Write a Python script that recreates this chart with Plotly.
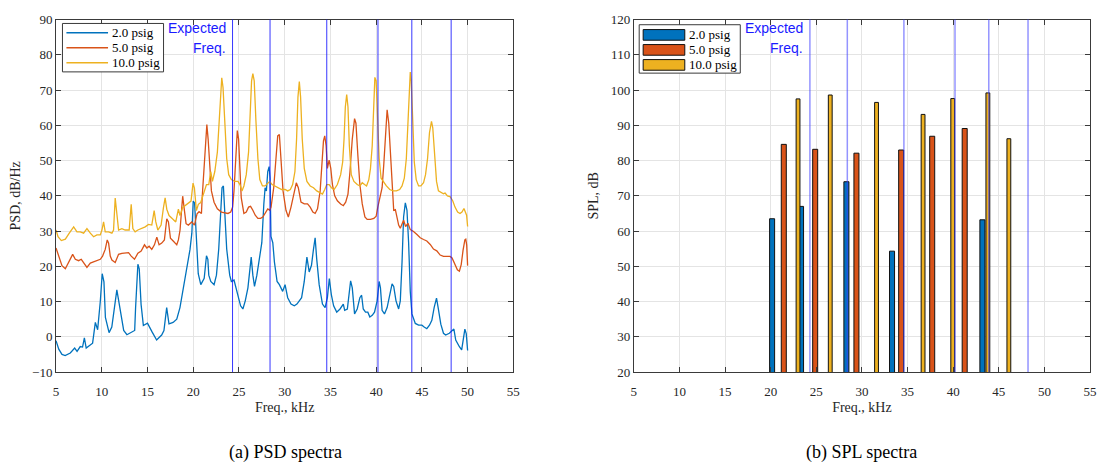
import plotly.graph_objects as go

# ---------------- PSD data (left) ----------------
f_2 = [5.0, 5.3, 5.65, 6.0, 6.56, 7.04, 7.3, 7.65, 7.9, 8.1, 8.3, 8.75, 9.0, 9.3, 9.55, 9.84, 10.05, 10.24, 10.4,
       10.8, 11.1, 11.65, 12.0, 12.4, 12.75, 13.3, 13.6, 13.7, 13.95, 14.1, 14.3, 14.55, 15.0, 15.5, 16.0, 16.55,
       16.8, 17.1, 17.35, 17.8, 18.2, 18.55, 18.9, 19.3, 19.65, 19.85, 20.0, 20.15, 20.35, 20.55, 20.83, 21.2,
       21.45, 21.6, 21.7, 21.92, 22.28, 22.54, 22.79, 23.0, 23.15, 23.3, 23.44, 23.66, 23.99, 24.17, 24.46, 24.6,
       24.89, 25.18, 25.43, 25.69, 25.98, 26.16, 26.34, 26.52, 26.7, 26.96, 27.25, 27.5, 27.72, 27.86, 28.0,
       28.15, 28.3, 28.4, 28.5, 28.7, 28.88, 29.17, 29.42, 29.78, 30.04, 30.33, 30.69, 31.05, 31.34, 31.6, 31.85,
       32.14, 32.43, 32.68, 32.93, 33.15, 33.33, 33.5, 33.77, 34.13, 34.42, 34.67, 34.88, 35.1, 35.35, 35.69,
       36.05, 36.41, 36.56, 36.85, 37.07, 37.21, 37.39, 37.64, 37.93, 38.22, 38.41, 38.59, 38.84, 39.09, 39.31,
       39.57, 39.82, 40.11, 40.33, 40.47, 40.65, 40.91, 41.2, 41.49, 41.74, 41.92, 42.17, 42.46, 42.64, 42.83,
       43.0, 43.19, 43.37, 43.55, 43.73, 43.91, 44.28, 44.64, 45.0, 45.25, 45.54, 45.83, 46.09, 46.34, 46.6,
       46.8, 47.07, 47.36, 47.6, 48.0, 48.3, 48.5, 48.7, 48.9, 49.1, 49.35, 49.55, 49.7, 49.85, 50.0]
psd_2 = [-1.1, -3.5, -5.0, -5.3, -4.6, -3.2, -4.1, -2.75, -2.9, -0.3, -3.2, -2.3, -1.8, 4.1, 2.0, 10.0, 17.9, 15.6, 5.5,
         1.2, 2.75, 13.3, 7.3, 1.8, 0.6, 1.4, 1.8, 8.3, 20.6, 19.3, 9.2, 3.2, 3.9, 1.4, -0.9, 0.5,
         1.8, 8.3, 3.7, 4.1, 5.0, 8.3, 13.8, 20.2, 24.8, 29.4, 38.5, 38.0, 26.6, 17.9, 14.8, 16.6,
         23.0, 22.0, 17.5, 15.7, 14.8, 17.5, 24.9, 35.9, 42.3, 42.8, 35.9, 24.9, 17.5, 15.7, 16.1, 14.8,
         12.0, 8.8, 7.9, 10.2, 13.9, 17.5, 22.6, 17.5, 14.3, 17.5, 22.1, 26.7, 37.7, 42.3, 41.4,
         46.9, 48.3, 45.0, 28.5, 26.7, 21.2, 15.7, 14.8, 12.9, 14.8, 11.1, 9.3, 8.8, 9.3, 10.2, 11.1,
         15.7, 22.6, 18.4, 20.3, 24.9, 28.1, 22.1, 14.8, 9.3, 8.3, 11.1, 16.5, 12.0, 8.8, 7.0,
         7.9, 9.3, 7.5, 7.9, 12.0, 15.9, 13.9, 6.5, 7.9, 11.1, 11.8, 7.9, 7.0, 7.0, 5.6,
         6.1, 7.0, 10.2, 15.7, 13.9, 7.5, 6.5, 8.3, 12.0, 15.0, 14.3, 10.2, 7.9, 10.2, 21.2,
         34.0, 38.0, 35.9, 26.7, 12.9, 6.5, 3.8, 3.3, 3.3, 2.8, 2.3, 3.3, 4.7, 8.3, 11.0,
         7.9, 3.6, 1.0, 0.5, 1.0, 1.8, 2.2, -0.9, -2.0, -2.8, -3.7, -0.5, 2.2, 0.9, -3.9]

f_5 = [5.0, 5.29, 5.65, 6.02, 6.38, 6.82, 7.11, 7.47, 7.76, 8.02, 8.38, 8.75, 9.11, 9.47, 9.84, 10.09, 10.38, 10.6,
       10.75, 10.93, 11.11, 11.47, 11.84, 12.2, 12.56, 12.93, 13.22, 13.58, 13.95, 14.31, 14.67, 14.93, 15.18,
       15.47, 15.76, 16.02, 16.27, 16.56, 16.85, 17.11, 17.29, 17.51, 17.84, 18.2, 18.38, 18.56, 18.75, 18.85,
       19.04, 19.22, 19.47, 19.84, 20.13, 20.42, 20.64, 20.9, 20.98, 21.2, 21.34, 21.49, 21.63, 21.81, 21.99,
       22.28, 22.64, 23.08, 23.44, 23.8, 24.1, 24.31, 24.46, 24.64, 24.82, 24.96, 25.11, 25.25, 25.54, 25.8,
       26.05, 26.27, 26.52, 26.78, 27.07, 27.36, 27.61, 27.86, 28.15, 28.37, 28.51, 28.8, 29.02, 29.24, 29.42,
       29.6, 29.82, 30.14, 30.4, 30.69, 30.98, 31.27, 31.49, 31.78, 32.14, 32.5, 32.79, 33.08, 33.33, 33.59,
       33.88, 34.06, 34.24, 34.38, 34.53, 34.67, 34.86, 35.04, 35.22, 35.47, 35.76, 36.12, 36.41, 36.67, 36.92,
       37.14, 37.39, 37.64, 37.79, 38.0, 38.22, 38.48, 38.77, 39.02, 39.38, 39.75, 40.0, 40.18, 40.4, 40.65,
       40.83, 41.01, 41.2, 41.38, 41.56, 41.74, 41.92, 42.1, 42.28, 42.46, 42.64, 42.83, 43.0, 43.22, 43.48,
       43.73, 44.09, 44.46, 44.82, 45.18, 45.54, 45.91, 46.27, 46.63, 47.0, 47.36, 47.72, 48.08, 48.3, 48.6,
       48.88, 49.1, 49.3, 49.5, 49.7, 49.8, 49.9, 50.0]
psd_5 = [25.2, 22.9, 20.2, 19.3, 21.1, 23.4, 22.0, 21.6, 22.0, 21.1, 19.7, 20.9, 21.3, 21.8, 22.0, 22.9, 24.8, 27.5,
         26.6, 22.9, 21.8, 21.1, 23.4, 23.7, 23.9, 23.9, 22.9, 22.0, 23.7, 24.3, 26.1, 25.2, 25.7,
         24.8, 26.1, 28.3, 26.1, 26.6, 27.5, 33.5, 32.6, 28.0, 27.1, 26.1, 27.5, 30.3, 36.7, 39.9,
         35.8, 32.1, 31.7, 32.6, 31.7, 34.9, 35.5, 35.0, 39.5, 49.6, 57.0, 60.2, 56.1, 46.9, 41.4,
         38.2, 36.3, 35.4, 35.1, 35.0, 35.4, 36.8, 41.4, 52.4, 58.5, 56.1, 46.9, 39.5, 35.0, 35.4,
         36.8, 37.0, 35.9, 34.5, 33.6, 33.6, 34.0, 35.0, 36.3, 35.9, 36.8, 42.3, 50.6, 57.0, 57.4,
         50.6, 41.4, 35.9, 34.0, 36.8, 40.5, 43.7, 42.3, 38.2, 37.7, 37.7, 36.8, 35.4, 35.0, 36.3,
         41.4, 49.6, 55.6, 57.0, 54.2, 47.8, 50.1, 47.8, 43.2, 40.0, 38.6, 37.7, 37.2, 38.2, 40.5,
         46.9, 56.1, 61.9, 60.6, 51.5, 43.2, 37.7, 34.0, 33.3, 33.3, 33.6, 34.2, 36.8, 39.1, 42.3,
         48.7, 57.9, 64.4, 60.6, 51.5, 41.4, 35.9, 36.1, 34.0, 31.7, 30.8, 32.2, 33.1, 31.3, 32.2,
         30.4, 29.9, 29.0, 28.1, 27.6, 27.2, 26.2, 24.9, 24.4, 23.2, 22.8, 22.7, 22.8, 22.4, 20.5,
         19.0, 18.6, 20.5, 24.5, 27.5, 27.7, 26.0, 20.2]

f_10 = [5.0, 5.22, 5.58, 6.02, 6.45, 6.93, 7.29, 7.65, 8.02, 8.38, 8.75, 9.11, 9.47, 9.84, 10.02, 10.2, 10.38, 10.75,
        11.11, 11.29, 11.47, 11.65, 11.84, 12.2, 12.56, 13.0, 13.22, 13.4, 13.65, 13.95, 14.31, 14.75, 15.11,
        15.47, 15.73, 15.91, 16.13, 16.49, 16.75, 16.93, 17.11, 17.36, 17.73, 18.09, 18.38, 18.56, 18.85, 19.11,
        19.47, 19.76, 19.98, 20.13, 20.35, 20.56, 20.82, 21.16, 21.45, 21.7, 21.92, 22.1, 22.36, 22.64, 22.86,
        23.0, 23.12, 23.26, 23.44, 23.66, 23.88, 24.17, 24.53, 24.89, 25.11, 25.33, 25.54, 25.8, 26.05, 26.23,
        26.38, 26.52, 26.67, 26.85, 27.07, 27.28, 27.57, 27.86, 28.15, 28.37, 28.62, 28.95, 29.31, 29.67, 30.04,
        30.33, 30.62, 30.87, 31.12, 31.3, 31.45, 31.6, 31.74, 31.92, 32.14, 32.43, 32.79, 33.15, 33.51, 33.88,
        34.13, 34.38, 34.6, 34.86, 35.11, 35.4, 35.76, 36.12, 36.34, 36.49, 36.63, 36.78, 36.92, 37.07, 37.28,
        37.57, 37.93, 38.22, 38.48, 38.73, 38.95, 39.2, 39.38, 39.57, 39.71, 39.86, 40.0, 40.14, 40.33, 40.54,
        40.83, 41.12, 41.49, 41.85, 42.21, 42.57, 42.83, 43.08, 43.3, 43.48, 43.62, 43.73, 43.84, 43.99, 44.17,
        44.38, 44.64, 44.89, 45.18, 45.4, 45.62, 45.83, 46.05, 46.19, 46.37, 46.6, 46.81, 47.1, 47.36, 47.54,
        47.79, 48.08, 48.37, 48.62, 48.91, 49.17, 49.38, 49.6, 49.75, 49.89, 50.0]
psd_10 = [30.3, 28.4, 27.3, 27.7, 29.4, 31.2, 29.8, 29.8, 29.4, 30.7, 29.4, 28.4, 28.9, 28.9, 30.3, 32.6, 29.8, 29.8,
          29.4, 30.3, 39.4, 33.9, 30.3, 30.7, 30.3, 30.3, 37.6, 30.7, 29.8, 30.3, 30.7, 31.2, 31.9,
          31.7, 35.8, 32.6, 30.3, 31.7, 36.7, 39.4, 36.2, 34.4, 33.5, 32.6, 36.2, 34.4, 36.7, 37.2,
          37.8, 38.5, 43.6, 42.2, 35.8, 37.6, 38.1, 40.9, 43.2, 43.2, 46.9, 44.1, 46.9, 52.4, 63.4,
          71.2, 73.5, 70.7, 60.6, 50.6, 46.0, 44.6, 44.1, 44.1, 43.2, 41.4, 42.8, 46.0, 52.4, 63.4,
          72.6, 74.7, 72.6, 61.6, 50.6, 44.6, 42.8, 42.8, 43.7, 44.1, 43.2, 42.8, 42.3, 41.8, 41.8,
          41.4, 41.8, 43.2, 46.9, 56.1, 68.0, 72.4, 68.0, 56.1, 47.8, 44.1, 42.8, 42.3, 41.4, 40.9,
          40.5, 41.8, 43.2, 43.2, 42.3, 41.8, 43.2, 46.0, 49.6, 56.1, 65.2, 68.7, 65.2, 54.2, 46.0,
          44.1, 43.2, 42.8, 43.7, 43.2, 42.8, 44.6, 47.8, 54.2, 66.1, 73.6, 72.6, 63.4, 50.6, 45.0,
          43.7, 42.8, 41.8, 41.4, 41.4, 41.8, 42.8, 45.0, 50.6, 60.6, 72.6, 75.1, 72.6, 60.6, 49.6,
          44.6, 42.8, 42.8, 43.7, 46.0, 50.6, 57.9, 61.1, 59.3, 51.5, 44.1, 41.4, 41.0, 40.6, 40.8,
          40.0, 39.8, 38.6, 36.8, 35.4, 35.0, 35.4, 36.4, 35.4, 34.5, 31.3]

# ---------------- SPL data (right) ----------------
spl_f_2 = [20.16, 23.33, 28.3, 33.3, 43.2]
spl_2 = [63.5, 67.0, 74.0, 54.3, 63.2]
spl_f_5 = [21.44, 24.88, 29.4, 34.3, 37.7, 41.26]
spl_5 = [84.6, 83.2, 82.1, 83.0, 86.9, 89.1]
spl_f_10 = [23.0, 26.53, 31.6, 36.7, 39.95, 43.8, 46.1]
spl_10 = [97.5, 98.6, 96.5, 93.1, 97.6, 99.2, 86.2]

expected_freq = [24.3, 28.4, 34.6, 40.2, 43.9, 48.2]

series_names = ["2.0 psig", "5.0 psig", "10.0 psig"]
colors = ["#0072BD", "#D95319", "#EDB120"]

SERIF = "Liberation Serif"
SANS = "Liberation Sans"
TXT = "#262626"
GRID = "#e4e4e4"
FRAME = "#3a3a3a"
W, H = 1107, 474


def px(x):
    return x / W


def py(y):
    return 1 - y / H


fig = go.Figure()

for fx, fy, name, c in zip([f_2, f_5, f_10], [psd_2, psd_5, psd_10], series_names, colors):
    fig.add_trace(go.Scatter(x=fx, y=fy, mode="lines", name=name, showlegend=False,
                             line=dict(color=c, width=1.3), xaxis="x", yaxis="y"))

bar_w = [0.55, 0.55, 0.42]
for fx, fy, name, c, w in zip([spl_f_2, spl_f_5, spl_f_10], [spl_2, spl_5, spl_10], series_names, colors, bar_w):
    fig.add_trace(go.Bar(x=fx, y=fy, name=name, width=w, showlegend=False,
                         marker=dict(color=c, line=dict(color="#111111", width=1)),
                         xaxis="x2", yaxis="y2"))

shapes = []
for xr, yr, col, wd in [("x", "y domain", "rgba(20,20,255,0.85)", 1), ("x2", "y2 domain", "rgba(60,60,255,0.55)", 1.5)]:
    for f in expected_freq:
        shapes.append(dict(type="line", xref=xr, yref=yr, x0=f, x1=f, y0=0, y1=1,
                           line=dict(color=col, width=wd), layer="above"))

annotations = []
for xr, yr in [("x", "y domain"), ("x2", "y2 domain")]:
    for txt, ys in [("Expected", -5), ("Freq.", -25)]:
        annotations.append(dict(xref=xr, yref=yr, x=expected_freq[0], y=1, xanchor="right", yanchor="top",
                                xshift=-5, yshift=ys + 7, text=txt, showarrow=False, align="right",
                                font=dict(family=SANS, size=14, color="#1a1aff")))

# ---- legends (drawn as a framed key) ----
# left: line key
shapes.append(dict(type="rect", xref="paper", yref="paper", x0=px(60), x1=px(162), y0=py(17), y1=py(67),
                   line=dict(color=FRAME, width=1), fillcolor="white", layer="above"))
for i, (name, c) in enumerate(zip(series_names, colors)):
    yc = 26.7 + 15.5 * i
    shapes.append(dict(type="line", xref="paper", yref="paper", x0=px(64), x1=px(106), y0=py(yc), y1=py(yc),
                       line=dict(color=c, width=1.5), layer="above"))
    annotations.append(dict(xref="paper", yref="paper", x=px(108), y=py(yc), xanchor="left", yanchor="middle",
                            text=name, showarrow=False, font=dict(family=SERIF, size=13, color="black")))
# right: patch key
shapes.append(dict(type="rect", xref="paper", yref="paper", x0=px(642), x1=px(744), y0=py(18.3), y1=py(68.3),
                   line=dict(color=FRAME, width=1), fillcolor="white", layer="above"))
for i, (name, c) in enumerate(zip(series_names, colors)):
    yc = 28.8 + 15.5 * i
    shapes.append(dict(type="rect", xref="paper", yref="paper", x0=px(646), x1=px(688), y0=py(yc - 5.5),
                       y1=py(yc + 5.5), line=dict(color="#111111", width=1), fillcolor=c, layer="above"))
    annotations.append(dict(xref="paper", yref="paper", x=px(690), y=py(yc), xanchor="left", yanchor="middle",
                            text=name, showarrow=False, font=dict(family=SERIF, size=13, color="black")))

annotations.append(dict(xref="paper", yref="paper", x=px(285), y=py(460), xanchor="center",
                        yanchor="middle", text="(a) PSD spectra", showarrow=False,
                        font=dict(family=SERIF, size=18, color="black")))
annotations.append(dict(xref="paper", yref="paper", x=px(866), y=py(460), xanchor="center",
                        yanchor="middle", text="(b) SPL spectra", showarrow=False,
                        font=dict(family=SERIF, size=18, color="black")))

axis_common = dict(showline=True, linecolor=FRAME, linewidth=1, mirror="ticks", ticks="inside", ticklen=5,
                   tickcolor=FRAME, showgrid=True, gridcolor=GRID, gridwidth=1, zeroline=False,
                   tickfont=dict(family=SERIF, size=13, color=TXT))

ydom = [py(377), py(13)]
fig.update_layout(
    width=W, height=H,
    margin=dict(l=0, r=0, t=0, b=0),
    paper_bgcolor="white", plot_bgcolor="white",
    barmode="overlay",
    showlegend=False,
    xaxis=dict(domain=[px(53.5), px(515)], range=[5, 55], tick0=5, dtick=5, anchor="y", ticklabelstandoff=7,
               title=dict(text="Freq., kHz", standoff=4, font=dict(family=SERIF, size=14, color=TXT)),
               **axis_common),
    yaxis=dict(domain=ydom, range=[-10, 90], dtick=10, anchor="x",
               title=dict(text="PSD, dB/Hz", standoff=8, font=dict(family=SERIF, size=14, color=TXT)),
               **axis_common),
    xaxis2=dict(domain=[px(636.5), px(1097)], range=[5, 55], tick0=5, dtick=5, anchor="y2", ticklabelstandoff=7,
                title=dict(text="Freq., kHz", standoff=4, font=dict(family=SERIF, size=14, color=TXT)),
                **axis_common),
    yaxis2=dict(domain=ydom, range=[20, 120], dtick=10, anchor="x2",
                title=dict(text="SPL, dB", standoff=8, font=dict(family=SERIF, size=14, color=TXT)),
                **axis_common),
    shapes=shapes,
    annotations=annotations,
)

fig.write_html("out.html")
